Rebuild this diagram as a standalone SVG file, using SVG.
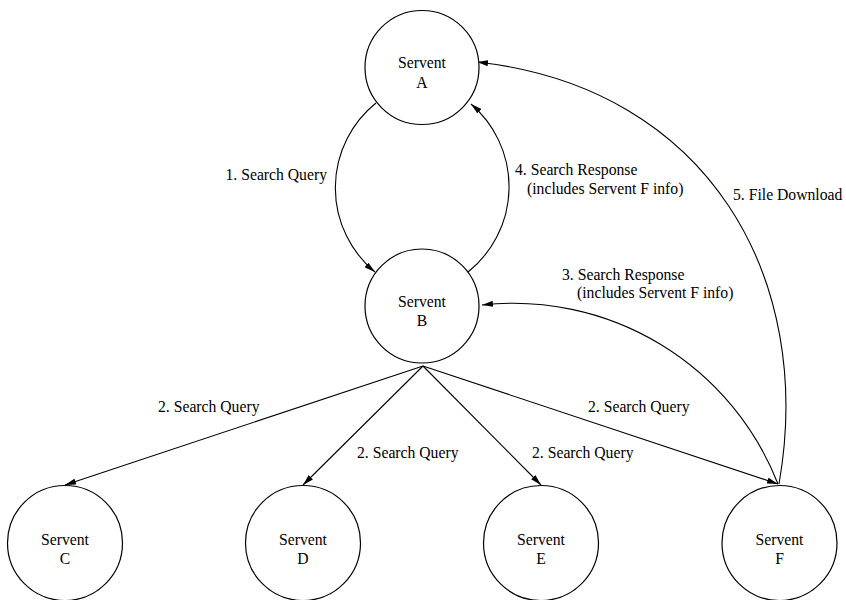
<svg xmlns="http://www.w3.org/2000/svg" width="846" height="600" viewBox="0 0 846 600">
<style>
.node circle{fill:#fff;stroke:#000;stroke-width:1.2}
text{font-family:"Liberation Serif","Times New Roman",serif;font-size:15.7px;fill:#000}
.nt{text-anchor:middle}
.edge{fill:none;stroke:#000;stroke-width:1.1}
</style>
<defs>
<marker id="ah" markerWidth="11" markerHeight="6" refX="11" refY="3" orient="auto" markerUnits="userSpaceOnUse">
<path d="M0,0 L11,3 L0,6 z" fill="#000"/>
</marker>
</defs>
<rect width="846" height="600" fill="#fff"/>
<g id="connectors">
<path class="edge" d="M376,103 A109,109 0 0,0 375,272" marker-end="url(#ah)"/>
<path class="edge" d="M468,272 A109,109 0 0,0 471,104" marker-end="url(#ah)"/>
<path class="edge" d="M779,484 C815,280 710,88 477,62" marker-end="url(#ah)"/>
<path class="edge" d="M778,484 A284,284 0 0,0 482,305" marker-end="url(#ah)"/>
<path class="edge" d="M423,366 L65,485" marker-end="url(#ah)"/>
<path class="edge" d="M423,366 L303,485" marker-end="url(#ah)"/>
<path class="edge" d="M423,366 L541,485" marker-end="url(#ah)"/>
<path class="edge" d="M423,366 L778,484" marker-end="url(#ah)"/>
<text x="327" y="180" text-anchor="end">1. Search Query</text>
<text x="515" y="175">4. Search Response</text>
<text x="527" y="194">(includes Servent F info)</text>
<text x="733" y="200">5. File Download</text>
<text x="562" y="280">3. Search Response</text>
<text x="577" y="298">(includes Servent F info)</text>
<text x="158" y="412">2. Search Query</text>
<text x="357" y="458">2. Search Query</text>
<text x="532" y="458">2. Search Query</text>
<text x="588" y="412">2. Search Query</text>
</g>
<g id="servent-a" class="node"><circle cx="422" cy="67.5" r="57"/><text class="nt" x="422" y="68">Servent</text><text class="nt" x="422" y="88">A</text></g>
<g id="servent-b" class="node"><circle cx="422" cy="306" r="57"/><text class="nt" x="422" y="306.5">Servent</text><text class="nt" x="422" y="326">B</text></g>
<g id="servent-c" class="node"><circle cx="65" cy="543" r="57.5"/><text class="nt" x="65" y="545">Servent</text><text class="nt" x="65" y="564">C</text></g>
<g id="servent-d" class="node"><circle cx="303" cy="543" r="57.5"/><text class="nt" x="303" y="545">Servent</text><text class="nt" x="303" y="564">D</text></g>
<g id="servent-e" class="node"><circle cx="541" cy="543" r="57.5"/><text class="nt" x="541" y="545">Servent</text><text class="nt" x="541" y="564">E</text></g>
<g id="servent-f" class="node"><circle cx="779.5" cy="543" r="57.5"/><text class="nt" x="779.5" y="545">Servent</text><text class="nt" x="779.5" y="564">F</text></g>
</svg>
